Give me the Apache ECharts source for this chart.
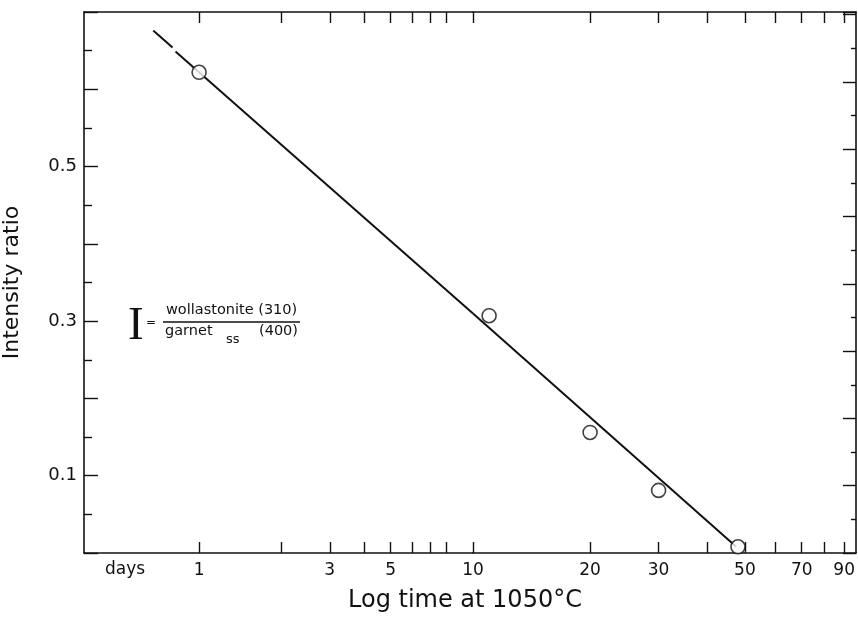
<!DOCTYPE html>
<html>
<head>
    <meta charset="utf-8">
    <title>Intensity ratio vs log time</title>
    <script src="https://cdn.jsdelivr.net/npm/echarts@6/dist/echarts.min.js"></script>
</head>
<body style="margin:0;background:#fff;">
<div id="main" style="width: 858px;height:617px;"></div>
<script type="text/javascript">

    // measured points (days, intensity ratio)
    var days = [1, 11, 20, 30, 48];
    var ratio = [0.622, 0.307, 0.156, 0.081, 0.008];

    // straight fitted line
    var fitDays = [0.82, 10, 47.5];
    var fitRatio = [0.649, 0.310, 0.008];
    // short dashed extension at the top left
    var dashDays = [0.68, 0.80];
    var dashRatio = [0.676, 0.654];

    // tick marks and labels of the time axis (the paper has two decades of different width)
    var ticksDecade1 = [1, 2, 3, 4, 5, 6, 7, 8, 10];
    var ticksDecade2 = [20, 30, 40, 50, 60, 70, 80, 90];
    var labelsDecade1 = [1, 3, 5, 10];
    var labelsDecade2 = [20, 30, 50, 70, 90];
    var yLabels = [0.1, 0.3, 0.5];

    var ink = '#111';
    var font = 'DejaVu Sans';

    function pairs(xs, ys, keep) {
        var out = [];
        for (var i = 0; i < xs.length; i++) {
            if (keep(xs[i])) out.push([xs[i], ys[i]]);
        }
        return out;
    }
    var inFirst = function (t) { return t <= 10; };
    var inSecond = function (t) { return t >= 10; };

    function timeAxis(grid, pos, min, max, ticks, labels) {
        return {
            type: 'log', gridIndex: grid, position: pos, min: min, max: max,
            axisLine: {show: true, onZero: false, lineStyle: {color: ink, width: 1.6}},
            axisTick: {show: true, inside: true, length: 11, customValues: ticks,
                lineStyle: {color: ink, width: 1.4}},
            axisLabel: labels ? {show: true, customValues: labels, margin: 9,
                color: ink, fontFamily: font, fontSize: 17} : {show: false},
            minorTick: {show: false},
            splitLine: {show: false}
        };
    }

    var option = {
        backgroundColor: '#fff',
        animation: false,
        grid: [
            {left: 82, top: 12, bottom: 64, width: 391},
            {left: 473, top: 12, bottom: 64, right: 1}
        ],
        xAxis: [
            timeAxis(0, 'bottom', 0.38, 10, ticksDecade1, labelsDecade1),
            timeAxis(1, 'bottom', 10, 96.5, ticksDecade2, labelsDecade2),
            timeAxis(0, 'top', 0.38, 10, ticksDecade1, null),
            timeAxis(1, 'top', 10, 96.5, ticksDecade2, null)
        ],
        yAxis: [
            {
                type: 'value', gridIndex: 0, min: 0, max: 0.7, interval: 0.1,
                name: 'Intensity ratio', nameLocation: 'middle', nameGap: 61,
                nameTextStyle: {color: ink, fontFamily: font, fontSize: 22},
                axisLine: {show: true, onZero: false, lineStyle: {color: ink, width: 1.6}},
                axisTick: {show: true, inside: true, length: 14, lineStyle: {color: ink, width: 1.4}},
                minorTick: {show: true, splitNumber: 2, length: 8, lineStyle: {color: ink, width: 1.4}},
                axisLabel: {
                    color: ink, fontFamily: font, fontSize: 18, margin: 7,
                    formatter: function (v) {
                        for (var i = 0; i < yLabels.length; i++) {
                            if (Math.abs(v - yLabels[i]) < 1e-6) return v.toFixed(1);
                        }
                        return '';
                    }
                },
                splitLine: {show: false}
            },
            {type: 'value', gridIndex: 1, min: 0, max: 0.7, show: false},
            {
                type: 'value', gridIndex: 1, position: 'right', min: 0, max: 8.04, interval: 1,
                axisLine: {show: true, onZero: false, lineStyle: {color: ink, width: 1.6}},
                axisTick: {show: true, inside: true, length: 13, lineStyle: {color: ink, width: 1.4}},
                minorTick: {show: true, splitNumber: 2, length: 5, lineStyle: {color: ink, width: 1.4}},
                axisLabel: {show: false},
                splitLine: {show: false}
            }
        ],
        graphic: [
            {type: 'text', left: 105, top: 561,
                style: {text: 'days', fill: ink, font: '17px ' + font}},
            {type: 'text', left: 348, top: 589,
                style: {text: 'Log time at 1050\u00b0C', fill: ink, font: '24px ' + font}},
            {type: 'text', left: 128, top: 303,
                style: {text: 'I', fill: ink, font: '47px Liberation Serif'}},
            {type: 'text', left: 146, top: 317,
                style: {text: '=', fill: ink, font: '12px ' + font}},
            {type: 'line', shape: {x1: 163, y1: 322, x2: 300, y2: 322},
                style: {stroke: ink, lineWidth: 1.3}},
            {type: 'text', left: 166, top: 303,
                style: {text: 'wollastonite (310)', fill: ink, font: '14.5px ' + font}},
            {type: 'text', left: 165, top: 324,
                style: {text: 'garnet', fill: ink, font: '14.5px ' + font}},
            {type: 'text', left: 226, top: 333,
                style: {text: 'ss', fill: ink, font: '13px ' + font}},
            {type: 'text', left: 259, top: 324,
                style: {text: '(400)', fill: ink, font: '14.5px ' + font}}
        ],
        series: [
            {
                name: 'fit', type: 'line', xAxisIndex: 0, yAxisIndex: 0,
                data: pairs(fitDays, fitRatio, inFirst), showSymbol: false,
                lineStyle: {color: ink, width: 2}, z: 2
            },
            {
                name: 'fit', type: 'line', xAxisIndex: 1, yAxisIndex: 1,
                data: pairs(fitDays, fitRatio, inSecond), showSymbol: false,
                lineStyle: {color: ink, width: 2}, z: 2
            },
            {
                name: 'extension', type: 'line', xAxisIndex: 0, yAxisIndex: 0,
                data: pairs(dashDays, dashRatio, inFirst), showSymbol: false,
                lineStyle: {color: ink, width: 2}, z: 2
            },
            {
                name: 'measured', type: 'scatter', xAxisIndex: 0, yAxisIndex: 0,
                data: pairs(days, ratio, function (t) { return t <= 10; }),
                symbol: 'circle', symbolSize: 14, clip: false,
                itemStyle: {color: '#fff', borderColor: ink, borderWidth: 1.6}, z: 3
            },
            {
                name: 'measured', type: 'scatter', xAxisIndex: 1, yAxisIndex: 1,
                data: pairs(days, ratio, function (t) { return t > 10; }),
                symbol: 'circle', symbolSize: 14, clip: false,
                itemStyle: {color: '#fff', borderColor: ink, borderWidth: 1.6}, z: 3
            }
        ]
    };

    var myChart = echarts.init(document.getElementById('main'));
    myChart.setOption(option);

</script>
</body>
</html>
